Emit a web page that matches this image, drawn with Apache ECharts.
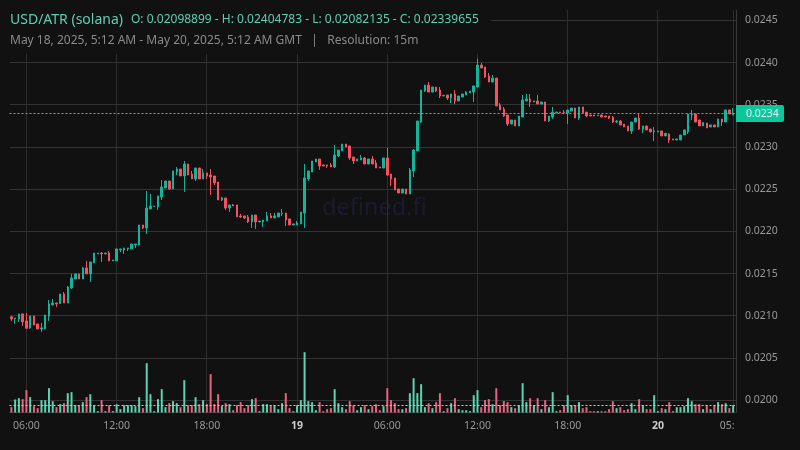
<!DOCTYPE html>
<html><head><meta charset="utf-8">
<script src="https://cdn.jsdelivr.net/npm/echarts@6/dist/echarts.min.js"></script>
<style>html,body{margin:0;padding:0;background:#111}#c{width:800px;height:450px}</style></head>
<body><div id="c"></div>
<script>
// prices below are in units of 0.00001 USD, 15-minute bars from May 18 05:00
const opens=[
2098.9,2096.7,2096.3,2102.3,2094.0,2085.7,2099.9,2090.4,2084.5,2084.5,
2099.5,2112.9,2115.3,2114.5,2126.0,2115.3,2133.1,2143.7,2149.7,2143.7,
2156.8,2149.7,2162.7,2173.4,2174.5,2173.4,2174.5,2165.1,2165.1,2178.1,
2178.1,2179.3,2179.3,2184.0,2184.0,2207.7,2204.2,2226.7,2229.4,2229.0,
2240.9,2251.5,2259.8,2250.4,2270.5,2274.0,2265.8,2280.0,2268.1,2262.2,
2275.2,2262.2,2269.3,2266.9,2265.7,2258.6,2237.3,2239.7,2227.8,2231.4,
2231.4,2218.4,2218.4,2217.2,2211.3,2219.5,2211.3,2211.3,2212.4,2218.4,
2216.0,2217.2,2220.7,2221.9,2214.8,2207.7,2207.7,2208.9,2221.9,2262.2,
2270.5,2282.3,2285.9,2278.8,2278.8,2278.8,2276.4,2289.4,2295.3,2303.6,
2301.3,2288.2,2283.5,2284.7,2287.1,2279.9,2285.9,2281.1,2276.4,2275.2,
2287.1,2268.1,2263.4,2250.3,2245.6,2250.3,2244.4,2271.7,2295.3,2329.7,
2366.4,2373.5,2365.2,2371.2,2367.6,2360.5,2361.7,2358.1,2362.9,2354.6,
2359.3,2361.7,2364.1,2365.2,2371.2,2397.2,2394.9,2384.2,2377.1,2381.8,
2349.8,2345.1,2338.0,2327.3,2332.1,2325.0,2335.6,2354.6,2357.0,2353.4,
2354.6,2351.0,2353.4,2330.9,2335.6,2340.4,2341.5,2341.5,2340.4,2342.7,
2346.3,2334.4,2347.5,2341.5,2338.0,2338.0,2337.2,2338.0,2336.8,2336.8,
2335.6,2330.0,2330.9,2327.3,2325.0,2319.0,2329.7,2334.4,2321.4,2325.0,
2321.4,2317.9,2317.9,2319.1,2313.2,2315.5,2309.6,2308.4,2308.4,2314.3,
2317.9,2338.0,2339.2,2332.1,2325.0,2328.5,2323.8,2326.2,2323.8,2333.3,
2329.7,2344.0,2338.0];
const closes=[
2096.3,2097.5,2102.3,2092.8,2085.3,2099.9,2089.2,2084.5,2085.7,2101.1,
2114.1,2115.3,2114.1,2126.0,2115.3,2134.2,2144.9,2149.7,2143.7,2156.8,
2149.7,2163.9,2174.5,2174.5,2173.4,2174.5,2165.1,2166.2,2179.3,2179.3,
2180.5,2180.5,2185.2,2185.2,2207.7,2204.2,2227.8,2230.2,2230.2,2242.1,
2252.7,2259.8,2250.4,2271.7,2274.0,2265.8,2280.0,2266.9,2262.2,2275.2,
2262.2,2269.3,2265.7,2264.6,2257.5,2237.3,2239.7,2227.8,2231.4,2230.2,
2217.2,2217.2,2216.0,2211.3,2219.5,2211.3,2212.4,2213.6,2218.4,2216.0,
2218.4,2221.9,2221.5,2213.6,2207.7,2208.9,2210.1,2223.1,2263.4,2271.7,
2283.5,2285.9,2277.6,2277.6,2277.6,2276.4,2290.6,2296.5,2303.6,2300.1,
2287.1,2283.5,2285.9,2287.1,2279.9,2285.9,2279.9,2275.2,2275.2,2287.1,
2266.9,2262.2,2249.1,2245.6,2250.3,2244.4,2272.8,2296.5,2330.9,2367.6,
2373.5,2365.2,2371.2,2366.4,2360.5,2361.3,2358.1,2362.9,2354.6,2360.5,
2362.9,2365.2,2366.4,2372.4,2397.2,2393.7,2383.0,2377.1,2381.8,2348.7,
2343.9,2336.8,2327.3,2332.1,2325.0,2336.8,2355.8,2357.0,2353.4,2354.6,
2351.0,2353.4,2330.9,2336.8,2341.5,2341.5,2340.4,2340.4,2343.9,2346.3,
2334.4,2347.5,2340.4,2336.8,2336.8,2336.8,2338.0,2335.6,2335.6,2334.4,
2329.7,2330.9,2326.1,2323.8,2319.0,2329.7,2334.4,2321.4,2325.0,2320.3,
2317.9,2319.1,2319.1,2313.2,2316.3,2308.4,2308.4,2309.6,2314.3,2320.3,
2339.2,2339.2,2329.7,2325.0,2329.0,2322.6,2326.2,2323.8,2333.3,2329.7,
2344.0,2339.2,2339.66];
const lows=[
2094.0,2090.4,2092.8,2088.0,2084.5,2084.5,2089.2,2084.5,2081.0,2084.5,
2094.0,2112.9,2110.6,2114.5,2115.3,2115.3,2131.9,2143.7,2143.7,2143.7,
2149.7,2140.2,2162.7,2173.4,2163.9,2173.4,2165.1,2165.1,2165.1,2175.7,
2173.4,2176.9,2179.3,2180.5,2184.0,2203.0,2197.0,2226.7,2229.4,2225.5,
2237.3,2251.5,2249.2,2250.4,2266.9,2265.8,2246.8,2266.9,2262.2,2259.8,
2262.2,2262.2,2262.2,2243.2,2255.1,2237.3,2236.1,2225.5,2223.1,2230.2,
2217.2,2216.0,2214.8,2210.1,2204.1,2202.9,2211.3,2205.3,2212.4,2216.0,
2216.0,2217.2,2218.4,2206.5,2207.7,2207.7,2207.7,2208.9,2204.1,2259.8,
2270.5,2282.3,2272.9,2277.6,2275.2,2276.4,2275.2,2288.2,2295.3,2300.1,
2284.7,2279.9,2283.5,2284.7,2279.9,2279.9,2279.9,2275.2,2275.2,2275.2,
2265.7,2253.9,2249.1,2245.6,2245.6,2244.4,2244.4,2264.5,2295.3,2328.5,
2365.2,2365.2,2365.2,2365.2,2358.1,2360.5,2355.8,2352.2,2351.0,2354.6,
2359.3,2361.7,2364.1,2353.4,2371.2,2393.7,2381.8,2377.1,2377.1,2348.7,
2343.9,2335.6,2325.0,2327.3,2325.0,2325.0,2335.6,2354.6,2347.5,2353.4,
2351.0,2351.0,2330.9,2329.7,2333.3,2340.4,2340.4,2339.2,2327.3,2342.7,
2334.4,2332.1,2340.4,2335.6,2336.8,2336.8,2337.2,2335.6,2335.6,2333.3,
2328.5,2328.5,2326.1,2323.8,2319.0,2315.5,2329.7,2320.2,2316.7,2320.3,
2317.9,2307.2,2317.9,2313.2,2313.2,2304.9,2308.4,2308.4,2308.4,2314.3,
2315.5,2332.1,2329.7,2325.0,2325.0,2322.6,2323.8,2323.8,2323.8,2325.0,
2329.7,2339.2,2338.0];
const highs=[
2099.5,2097.5,2102.3,2102.3,2103.5,2099.9,2099.9,2090.4,2091.6,2101.1,
2118.9,2120.0,2115.3,2126.0,2128.3,2135.4,2149.7,2149.7,2149.7,2158.0,
2165.1,2163.9,2174.5,2174.5,2175.7,2174.5,2176.9,2166.2,2179.3,2179.3,
2180.5,2180.5,2185.2,2185.2,2207.7,2207.7,2248.0,2244.4,2230.2,2242.1,
2261.0,2259.8,2259.8,2271.7,2276.4,2274.0,2283.5,2280.0,2271.7,2275.2,
2275.2,2274.0,2269.3,2274.0,2265.7,2258.6,2240.9,2239.7,2231.4,2232.6,
2231.4,2220.7,2218.4,2219.5,2219.5,2219.5,2212.4,2213.6,2223.1,2221.9,
2221.9,2221.9,2226.7,2221.9,2214.8,2208.9,2212.4,2223.1,2280.0,2271.7,
2283.5,2285.9,2285.9,2278.8,2278.8,2281.1,2302.5,2296.5,2303.6,2303.6,
2301.3,2288.2,2285.9,2290.6,2288.2,2285.9,2289.4,2284.7,2276.4,2287.1,
2298.9,2268.1,2263.4,2250.3,2250.3,2250.3,2275.2,2297.7,2330.9,2367.6,
2373.5,2377.1,2371.2,2371.2,2371.2,2361.3,2361.7,2362.9,2367.6,2360.5,
2362.9,2366.4,2366.4,2372.4,2404.8,2399.6,2394.9,2387.8,2385.4,2381.8,
2352.2,2347.5,2338.0,2332.1,2332.1,2336.8,2361.7,2362.9,2362.9,2354.6,
2361.7,2353.4,2353.4,2336.8,2347.5,2341.5,2341.5,2343.9,2343.9,2346.3,
2346.3,2347.5,2347.5,2341.5,2338.0,2338.0,2338.0,2338.0,2336.8,2336.8,
2336.8,2332.1,2332.1,2327.3,2325.0,2329.7,2334.4,2339.2,2325.0,2325.0,
2321.4,2323.8,2319.1,2319.1,2316.3,2316.3,2309.6,2309.6,2314.3,2320.3,
2339.2,2344.0,2339.2,2332.1,2329.0,2328.5,2326.2,2326.2,2333.3,2333.3,
2344.0,2344.0,2346.3];
const volumes=[
16,39,43,40,67,46,19,13,37,37,
73,34,16,25,28,58,61,22,22,31,
46,55,22,4,37,4,22,4,25,10,
22,22,22,19,46,13,148,55,4,40,
70,16,28,34,28,16,97,22,22,46,
25,37,25,115,25,55,19,28,25,7,
22,31,13,22,40,43,4,25,25,22,
22,10,28,58,13,4,22,37,181,34,
31,7,31,4,10,13,70,28,16,10,
34,22,7,16,22,10,19,25,7,19,
73,37,28,10,10,13,58,103,58,85,
16,28,13,31,58,4,13,28,43,10,
7,7,4,52,67,16,37,40,25,73,
22,34,31,16,13,22,88,31,43,22,
43,10,37,16,61,4,7,22,52,22,
22,31,13,16,4,4,4,4,4,10,
34,13,16,7,10,28,10,40,22,10,
10,52,4,13,10,31,4,16,16,19,
43,34,25,25,10,22,10,22,31,25,
28,13,22];
const volumeAverage=21;
const priceTicks=[0.0200,0.0205,0.0210,0.0215,0.0220,0.0225,0.0230,0.0235,0.0240,0.0245];
const lastPrice=0.02339655;
const tickBars={4:'06:00',28:'12:00',52:'18:00',76:'19',100:'06:00',124:'12:00',148:'18:00',172:'20',192:'05:00'};
const titleText='USD/ATR (solana)';
const ohlcText='O: 0.02098899 - H: 0.02404783 - L: 0.02082135 - C: 0.02339655';
const rangeText='May 18, 2025, 5:12 AM - May 20, 2025, 5:12 AM GMT   |   Resolution: 15m';
const watermark='defined.fi';

const UNIT=1e-5, BG='#111111', UP='#12b59b', DOWN='#f8505f', VUP='#5cd3b0', VDOWN='#e8637f';
const FONT='"Noto Sans","Open Sans",sans-serif';
const categories=opens.map((_,i)=>'b'+i);
const candleData=opens.map((o,i)=>[o*UNIT,closes[i]*UNIT,lows[i]*UNIT,highs[i]*UNIT]);
const volumeData=volumes.map((v,i)=>({value:v,itemStyle:{color:closes[i]>=opens[i]?VUP:VDOWN}}));

function verticalGrid(params,api){
  const c=params.coordSys, x=Math.floor(api.coord([api.value(0),0.02])[0])+0.5;
  return {type:'line',silent:true,shape:{x1:x,y1:c.y,x2:x,y2:c.y+c.height},style:{stroke:'#2d2d2d',lineWidth:1}};
}
function horizontalGrid(params,api){
  const c=params.coordSys, y=Math.floor(api.coord([0,api.value(0)])[1])+0.5;
  return {type:'line',silent:true,shape:{x1:c.x+0.5,y1:y,x2:c.x+c.width+1,y2:y},style:{stroke:'#333333',lineWidth:1}};
}

const chart=echarts.init(document.getElementById('c'),null,{renderer:'canvas'});
chart.setOption({
  animation:false,backgroundColor:BG,textStyle:{fontFamily:FONT},
  grid:{left:9.5,width:725.5,top:10,height:402.5,containLabel:false},
  xAxis:{type:'category',data:categories,boundaryGap:true,
    axisLine:{show:true,lineStyle:{color:'#3a3a3a',width:1}},axisTick:{show:false},splitLine:{show:false},
    axisLabel:{interval:(i)=>tickBars[i]!==undefined,margin:8,fontSize:10.5,color:'#999',fontFamily:FONT,
      hideOverlap:false,
      formatter:(v,i)=>{const t=tickBars[i];return t&&t.length===2?'{d|'+t+'}':t||'';},
      rich:{d:{fontWeight:'bold',color:'#ccc',fontSize:10.5,fontFamily:FONT}}}},
  yAxis:[
   {type:'value',position:'right',offset:1,min:0.019855,max:0.024624,scale:true,
    axisLine:{show:true,lineStyle:{color:'#3a3a3a',width:1}},axisTick:{show:false},splitLine:{show:false},
    axisLabel:{customValues:priceTicks,margin:9,fontSize:10.5,color:'#999',fontFamily:FONT,padding:[2,0,0,0],formatter:v=>v.toFixed(4)}},
   {type:'value',min:0,max:1207.5,show:false,splitLine:{show:false}}
  ],
  series:[
   {type:'custom',z:0,silent:true,xAxisIndex:0,yAxisIndex:0,clip:false,renderItem:horizontalGrid,
    encode:{y:0},data:priceTicks.map(p=>[p])},
   {type:'custom',z:0,silent:true,xAxisIndex:0,yAxisIndex:0,clip:false,renderItem:verticalGrid,
    encode:{x:0},data:Object.keys(tickBars).map(i=>[+i])},
   {name:'Volume',type:'bar',xAxisIndex:0,yAxisIndex:1,data:volumeData,barWidth:2,z:1,silent:true,
    markLine:{silent:true,symbol:'none',animation:false,label:{show:false},
      lineStyle:{color:'#8fe3cc',width:1,type:[2,2]},data:[{yAxis:volumeAverage}]}},
   {name:'USD/ATR',type:'candlestick',xAxisIndex:0,yAxisIndex:0,data:candleData,barWidth:2,z:3,silent:true,
    itemStyle:{color:UP,color0:DOWN,borderColor:UP,borderColor0:DOWN,borderWidth:1},
    markLine:{silent:true,symbol:'none',animation:false,z:6,precision:8,
      lineStyle:{color:'#2cc7a2',width:1,type:[2,2]},
      label:{show:true,position:'end',distance:1,formatter:()=>lastPrice.toFixed(4),color:'#e6f7f2',fontSize:10.5,
        fontFamily:FONT,backgroundColor:'#0cc79b',borderRadius:[0,2,2,0],padding:[4,7,2,10],width:31,height:11,lineHeight:11,align:'left'},
      data:[{yAxis:lastPrice}]}}
  ],
  graphic:[
   {type:'text',z:0,left:322,top:196,silent:true,style:{text:watermark,font:'23.5px '+FONT,fill:'#1b1b30'}},
   {type:'rect',z:50,silent:true,shape:{x:0,y:0,width:491,height:54},style:{fill:BG}},
   {type:'rect',z:50,silent:true,shape:{x:735,y:414,width:65,height:36},style:{fill:BG}},
   {type:'text',z:51,left:10,top:13,silent:true,style:{text:titleText,font:'14px '+FONT,fill:'#5fd0b0'}},
   {type:'text',z:51,left:131,top:14,silent:true,style:{text:ohlcText,font:'12px '+FONT,fill:'#5fd0b0'}},
   {type:'text',z:51,left:10,top:35,silent:true,style:{text:rangeText,font:'12px '+FONT,fill:'#8a8a8a'}}
  ]
});
</script></body></html>
